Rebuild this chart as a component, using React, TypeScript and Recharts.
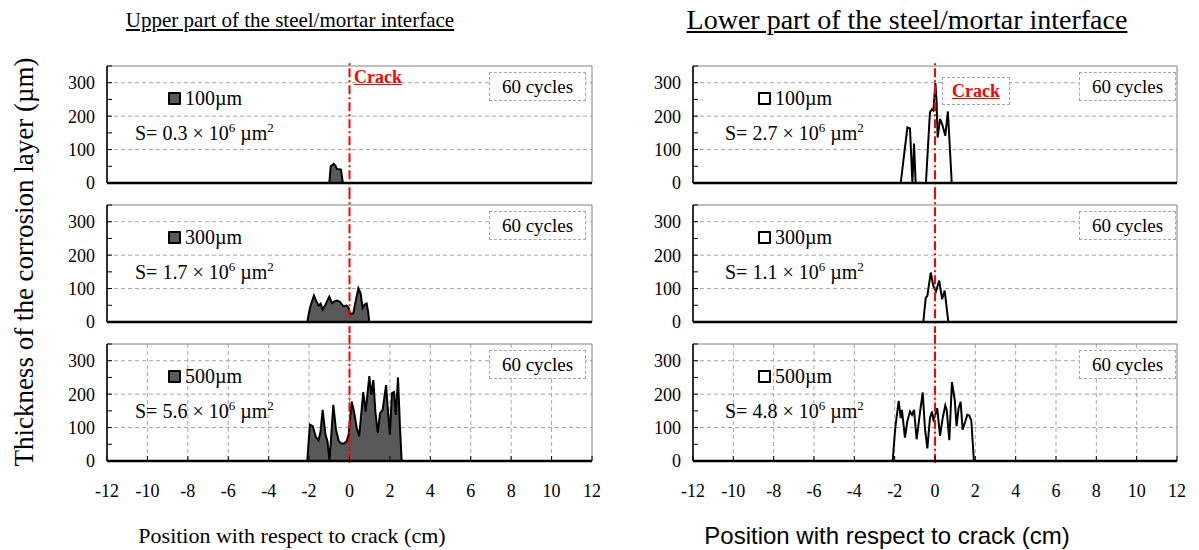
import React from "react";
import {
  Area,
  AreaChart,
  CartesianGrid,
  Legend,
  ReferenceArea,
  ReferenceLine,
  XAxis,
  YAxis,
} from "recharts";

const serif = "'Liberation Serif', 'Times New Roman', serif";
const sans = "'Liberation Sans', Arial, sans-serif";

const xTicks = [-12, -10, -8, -6, -4, -2, 0, 2, 4, 6, 8, 10, 12];
const yTicks = [0, 50, 100, 150, 200, 250, 300, 350];
const gridX = [-10, -8, -6, -4, -2, 0, 2, 4, 6, 8, 10];
const gridY = [100, 200, 300];

const barWidths = ["100µm", "300µm", "500µm"];
const upperAreas = ["0.3", "1.7", "5.6"];
const lowerAreas = ["2.7", "1.1", "4.8"];
const cyclesLabel = "60 cycles";

// upper part of the interface (filled)
const upper100Pos = [-1.0, -0.93, -0.78, -0.7, -0.62, -0.42, -0.33];
const upper100Thick = [0, 50, 57, 52, 42, 40, 0];

const upper300Pos = [-2.09, -1.96, -1.76, -1.63, -1.53, -1.43, -1.33, -1.19, -1.0, -0.87, -0.73, -0.6, -0.47, -0.3, -0.14, -0.04, 0.02, 0.19, 0.32, 0.44, 0.55, 0.65, 0.75, 0.85, 0.92, 0.98];
const upper300Thick = [0, 42, 79, 61, 49, 55, 37, 52, 76, 57, 62, 64, 60, 47, 49, 42, 24, 26, 67, 101, 86, 42, 52, 55, 31, 0];

const upper500Pos = [-2.09, -1.96, -1.82, -1.66, -1.53, -1.43, -1.33, -1.19, -1.09, -0.99, -0.8, -0.67, -0.53, -0.4, -0.27, -0.14, -0.04, 0.11, 0.22, 0.36, 0.48, 0.68, 0.8, 0.98, 1.08, 1.18, 1.28, 1.4, 1.51, 1.64, 1.81, 1.92, 2.0, 2.1, 2.2, 2.29, 2.4, 2.5, 2.58];
const upper500Thick = [0, 109, 104, 71, 62, 89, 153, 79, 59, 0, 168, 94, 59, 52, 52, 59, 79, 178, 148, 99, 74, 206, 148, 254, 198, 242, 148, 84, 143, 153, 227, 138, 79, 203, 206, 138, 250, 99, 0];

// lower part of the interface (outline only)
const lower100Pos = [-1.7, -1.37, -1.24, -1.12, -1.04, -0.96, -0.45, -0.25, -0.15, -0.08, 0.02, 0.08, 0.13, 0.25, 0.38, 0.51, 0.64, 0.83];
const lower100Thick = [0, 166, 163, 0, 118, 0, 0, 212, 220, 217, 299, 243, 136, 192, 171, 141, 214, 0];

const lower300Pos = [-0.58, -0.46, -0.38, -0.21, -0.08, 0.05, 0.21, 0.35, 0.48, 0.66];
const lower300Thick = [0, 72, 78, 148, 107, 92, 124, 68, 94, 0];

const lower500Pos = [-2.1, -1.97, -1.8, -1.7, -1.64, -1.49, -1.37, -1.24, -1.14, -1.04, -0.91, -0.74, -0.61, -0.5, -0.38, -0.25, -0.15, -0.08, 0.01, 0.11, 0.25, 0.38, 0.51, 0.58, 0.71, 0.84, 0.98, 1.07, 1.17, 1.27, 1.37, 1.5, 1.6, 1.7, 1.8, 1.93];
const lower500Thick = [0, 99, 180, 128, 153, 70, 119, 148, 138, 153, 65, 148, 205, 99, 38, 128, 148, 124, 138, 158, 75, 128, 166, 153, 62, 236, 182, 104, 158, 177, 94, 118, 138, 136, 121, 0];

const toData = (pos: number[], thick: number[]) =>
  pos.map((x, i) => ({ x, t: thick[i] }));

const upperSeries = [
  toData(upper100Pos, upper100Thick),
  toData(upper300Pos, upper300Thick),
  toData(upper500Pos, upper500Thick),
];
const lowerSeries = [
  toData(lower100Pos, lower100Thick),
  toData(lower300Pos, lower300Thick),
  toData(lower500Pos, lower500Thick),
];

const PLOT_H = 117;
const M_TOP = 11;
const plotTops = [66, 205, 344];

type PanelProps = {
  data: { x: number; t: number }[];
  filled: boolean;
  name: string;
  area: string;
  row: number;
  left: number;
  yAxisW: number;
  rightM: number;
  crackBoxed?: boolean;
};

const supStyle: React.CSSProperties = {
  fontSize: "0.65em",
  verticalAlign: "super",
  lineHeight: 0,
};

const Panel = ({ data, filled, name, area, row, left, yAxisW, rightM, crackBoxed }: PanelProps) => {
  const last = row === 2;
  const xh = last ? 45 : 11;
  const h = M_TOP + PLOT_H + xh;
  // red crack line runs through the gaps between the stacked panels
  const lineTop = row === 0 ? 362 : 390;
  const lineBottom = last ? -5 : -40;

  const legendContent = (props: any) => {
    const item = props.payload && props.payload[0];
    return (
      <div style={{ display: "flex", alignItems: "center", fontFamily: serif, fontSize: 20, color: "#000" }}>
        <span
          style={{
            display: "inline-block",
            width: 9,
            height: 9,
            border: "2px solid #000",
            borderRadius: 1,
            background: filled ? "#595959" : "#fff",
            marginRight: 4,
          }}
        />
        <span>{item ? item.value : name}</span>
      </div>
    );
  };

  return (
    <div style={{ position: "absolute", left, top: plotTops[row] - M_TOP, width: 600, height: h }}>
      <AreaChart width={600} height={h} data={data} margin={{ top: M_TOP, right: rightM, bottom: 0, left: 0 }}>
        <CartesianGrid
          stroke="#a6a6a6"
          strokeDasharray="4 3"
          horizontalValues={gridY}
          verticalValues={gridX}
        />
        <ReferenceArea x1={-12} x2={12} y1={0} y2={350} fill="none" stroke="#808080" strokeWidth={1} ifOverflow="visible" />
        <XAxis
          type="number"
          dataKey="x"
          domain={[-12, 12]}
          ticks={xTicks}
          interval={0}
          allowDataOverflow
          height={xh}
          tickSize={-5}
          tickMargin={28}
          axisLine={{ stroke: "#000", strokeWidth: 2.5 }}
          tickLine={{ stroke: "#000" }}
          tick={last ? { fill: "#000", fontSize: 18, fontFamily: serif } : false}
        />
        <YAxis
          type="number"
          domain={[0, 350]}
          ticks={yTicks}
          interval={0}
          width={yAxisW}
          tickSize={-5}
          tickMargin={17}
          tickFormatter={(v: number) => (v % 100 === 0 ? String(v) : "")}
          axisLine={{ stroke: "#000", strokeWidth: 1.5 }}
          tickLine={{ stroke: "#000" }}
          tick={{ fill: "#000", fontSize: 18, fontFamily: serif }}
        />
        <Area
          type="linear"
          dataKey="t"
          name={name}
          stroke="#000"
          strokeWidth={2}
          fill={filled ? "#595959" : "none"}
          fillOpacity={1}
          isAnimationActive={false}
        />
        <ReferenceLine
          segment={[
            { x: 0, y: lineBottom },
            { x: 0, y: lineTop },
          ]}
          stroke="#ff0000"
          strokeWidth={2}
          strokeDasharray="9 3 2 3"
          ifOverflow="visible"
        />
        <Legend
          layout="horizontal"
          verticalAlign="middle"
          align="center"
          content={legendContent}
          wrapperStyle={{ left: 168, top: M_TOP + 21, width: "auto" }}
        />
      </AreaChart>

      <div
        style={{
          position: "absolute",
          left: 135,
          top: M_TOP + 55,
          fontFamily: serif,
          fontSize: 20,
          whiteSpace: "nowrap",
          lineHeight: "24px",
        }}
      >
        S= {area} × 10<span style={supStyle}>6</span> µm<span style={supStyle}>2</span>
      </div>

      <div
        style={{
          position: "absolute",
          left: 489,
          top: M_TOP + 6,
          width: 95,
          height: 27,
          border: "1px dashed #a6a6a6",
          background: "#fff",
          fontFamily: serif,
          fontSize: 19,
          lineHeight: "27px",
          textAlign: "center",
          whiteSpace: "nowrap",
        }}
      >
        {cyclesLabel}
      </div>

      {row === 0 && (
        <div
          style={{
            position: "absolute",
            left: crackBoxed ? 352 : 354,
            top: crackBoxed ? M_TOP + 11 : M_TOP - 2,
            width: crackBoxed ? 66 : "auto",
            height: crackBoxed ? 26 : "auto",
            border: crackBoxed ? "1px dashed #a6a6a6" : "none",
            background: crackBoxed ? "#fff" : "transparent",
            color: "#ff0000",
            fontFamily: serif,
            fontWeight: "bold",
            fontSize: 18,
            textDecoration: "underline",
            lineHeight: "26px",
            textAlign: "center",
          }}
        >
          Crack
        </div>
      )}
    </div>
  );
};

export default function App() {
  return (
    <div
      style={{
        position: "absolute",
        left: 0,
        top: 0,
        width: 1199,
        height: 550,
        background: "#fff",
        fontFamily: serif,
        color: "#000",
        overflow: "hidden",
      }}
    >
      <div style={{ position: "absolute", left: 90, top: 8, width: 400, textAlign: "center", fontSize: 21, textDecoration: "underline" }}>
        Upper part of the steel/mortar interface
      </div>
      <div style={{ position: "absolute", left: 607, top: 4, width: 600, textAlign: "center", fontSize: 28, textDecoration: "underline", whiteSpace: "nowrap" }}>
        Lower part of the steel/mortar interface
      </div>

      <div
        style={{
          position: "absolute",
          left: 24 - 240,
          top: 262 - 16,
          width: 480,
          height: 32,
          lineHeight: "32px",
          textAlign: "center",
          fontSize: 27,
          transform: "rotate(-90deg)",
          whiteSpace: "nowrap",
        }}
      >
        Thickness of the corrosion layer (µm)
      </div>

      {upperSeries.map((d, i) => (
        <Panel
          key={"u" + i}
          data={d}
          filled
          name={barWidths[i]}
          area={upperAreas[i]}
          row={i}
          left={0}
          yAxisW={107}
          rightM={8}
        />
      ))}
      {lowerSeries.map((d, i) => (
        <Panel
          key={"l" + i}
          data={d}
          filled={false}
          name={barWidths[i]}
          area={lowerAreas[i]}
          row={i}
          left={590}
          yAxisW={103}
          rightM={13}
          crackBoxed
        />
      ))}

      <div style={{ position: "absolute", left: 92, top: 523, width: 400, textAlign: "center", fontSize: 22 }}>
        Position with respect to crack (cm)
      </div>
      <div style={{ position: "absolute", left: 637, top: 522, width: 500, textAlign: "center", fontSize: 24, fontFamily: sans, whiteSpace: "nowrap" }}>
        Position with respect to crack (cm)
      </div>
    </div>
  );
}
